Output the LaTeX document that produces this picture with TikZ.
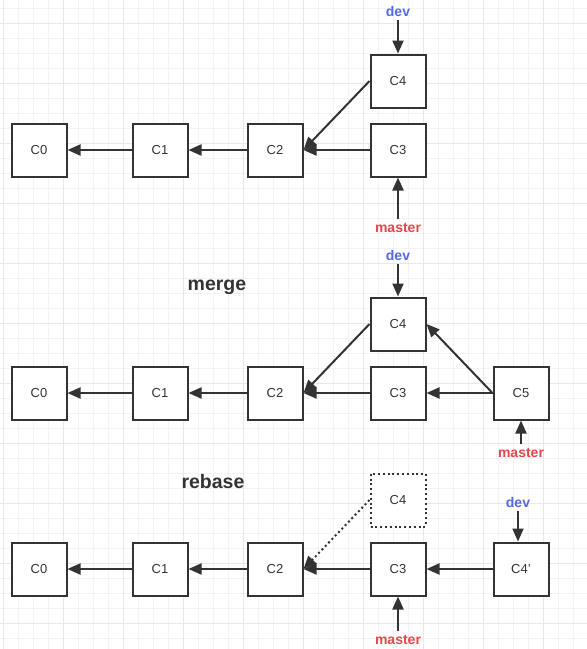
\documentclass[tikz,border=0pt]{standalone}
\usepackage{fontspec}
\setmainfont{Liberation Sans}
\usetikzlibrary{arrows.meta}
\definecolor{mgrid}{HTML}{F3F3F3}
\definecolor{mgridmajor}{HTML}{E8E8E8}
\definecolor{mline}{HTML}{333333}
\definecolor{mdev}{HTML}{5468E8}
\definecolor{mmaster}{HTML}{E8464B}
\tikzset{commit/.style = {draw=mline, line width=2pt, fill=white,
                          minimum width=55pt, minimum height=53pt, inner sep=0pt,
                          text=mline, font=\fontsize{13}{15}\selectfont},
         lost/.style = {commit, dash pattern=on 2pt off 2.8pt},
         parent/.style = {draw=mline, line width=2pt,
                          -{Triangle[length=13pt, width=11pt]}},
         branch/.style = {font=\bfseries\fontsize{14}{16}\selectfont, inner sep=4pt},
         title/.style = {font=\bfseries\fontsize{19.5}{22}\selectfont, text=mline,
                         anchor=base, inner sep=0pt}}

\begin{document}
\begin{tikzpicture}[x=1pt, y=-1pt]
      \fill [white] (0, 0) rectangle (587, 649);
      \useasboundingbox (0, 0) rectangle (587, 649);

      \foreach \gx in {3, 18, ..., 587}
        \draw [mgrid, line width=1pt] (\gx, 0) -- (\gx, 649);
      \foreach \gy in {8, 23, ..., 649}
        \draw [mgrid, line width=1pt] (0, \gy) -- (587, \gy);
      \foreach \gx in {3, 63, ..., 587}
        \draw [mgridmajor, line width=1pt] (\gx, 0) -- (\gx, 649);
      \foreach \gy in {23, 83, ..., 649}
        \draw [mgridmajor, line width=1pt] (0, \gy) -- (587, \gy);

      % plain history
      \node [commit] (c0) at (39, 150) {C0};
      \node [commit] (c1) at (160, 150) {C1};
      \node [commit] (c2) at (275, 150) {C2};
      \node [commit] (c3) at (398, 150) {C3};
      \node [commit] (c4) at (398, 81) {C4};
      \node [branch, text=mdev] (devA) at (398, 11) {dev};
      \node [branch, text=mmaster] (masterA) at (398, 228) {master};

      \draw [parent] (c1.west) -- (c0.east);
      \draw [parent] (c2.west) -- (c1.east);
      \draw [parent] (c3.west) -- (c2.east);
      \draw [parent] (c4.west) -- (c2.east);
      \draw [parent] (devA) -- (c4.north);
      \draw [parent] (masterA) -- (c3.south);

      % merge
      \node [title] (merge) at (217, 290) {merge};
      \node [commit] (mc0) at (39, 393) {C0};
      \node [commit] (mc1) at (160, 393) {C1};
      \node [commit] (mc2) at (275, 393) {C2};
      \node [commit] (mc3) at (398, 393) {C3};
      \node [commit] (mc4) at (398, 324) {C4};
      \node [commit] (mc5) at (521, 393) {C5};
      \node [branch, text=mdev] (devB) at (398, 255) {dev};
      \node [branch, text=mmaster] (masterB) at (521, 453) {master};

      \draw [parent] (mc1.west) -- (mc0.east);
      \draw [parent] (mc2.west) -- (mc1.east);
      \draw [parent] (mc3.west) -- (mc2.east);
      \draw [parent] (mc4.west) -- (mc2.east);
      \draw [parent] (mc5.west) -- (mc3.east);
      \draw [parent] (mc5.west) -- (mc4.east);
      \draw [parent] (devB) -- (mc4.north);
      \draw [parent] (masterB) -- (mc5.south);

      % rebase
      \node [title] (rebase) at (213, 488) {rebase};
      \node [commit] (rc0) at (39, 569) {C0};
      \node [commit] (rc1) at (160, 569) {C1};
      \node [commit] (rc2) at (275, 569) {C2};
      \node [commit] (rc3) at (398, 569) {C3};
      \node [lost] (rc4old) at (398, 500) {C4};
      \node [commit] (rc4new) at (521, 569) {C4'};
      \node [branch, text=mdev] (devC) at (518, 502) {dev};
      \node [branch, text=mmaster] (masterC) at (398, 640) {master};

      \draw [parent] (rc1.west) -- (rc0.east);
      \draw [parent] (rc2.west) -- (rc1.east);
      \draw [parent] (rc3.west) -- (rc2.east);
      \draw [parent, dash pattern=on 2pt off 2.8pt] (rc4old.west) -- (rc2.east);
      \draw [parent] (rc4new.west) -- (rc3.east);
      \draw [parent] (devC) -- (devC |- rc4new.north);
      \draw [parent] (masterC) -- (rc3.south);
\end{tikzpicture}
\end{document}
